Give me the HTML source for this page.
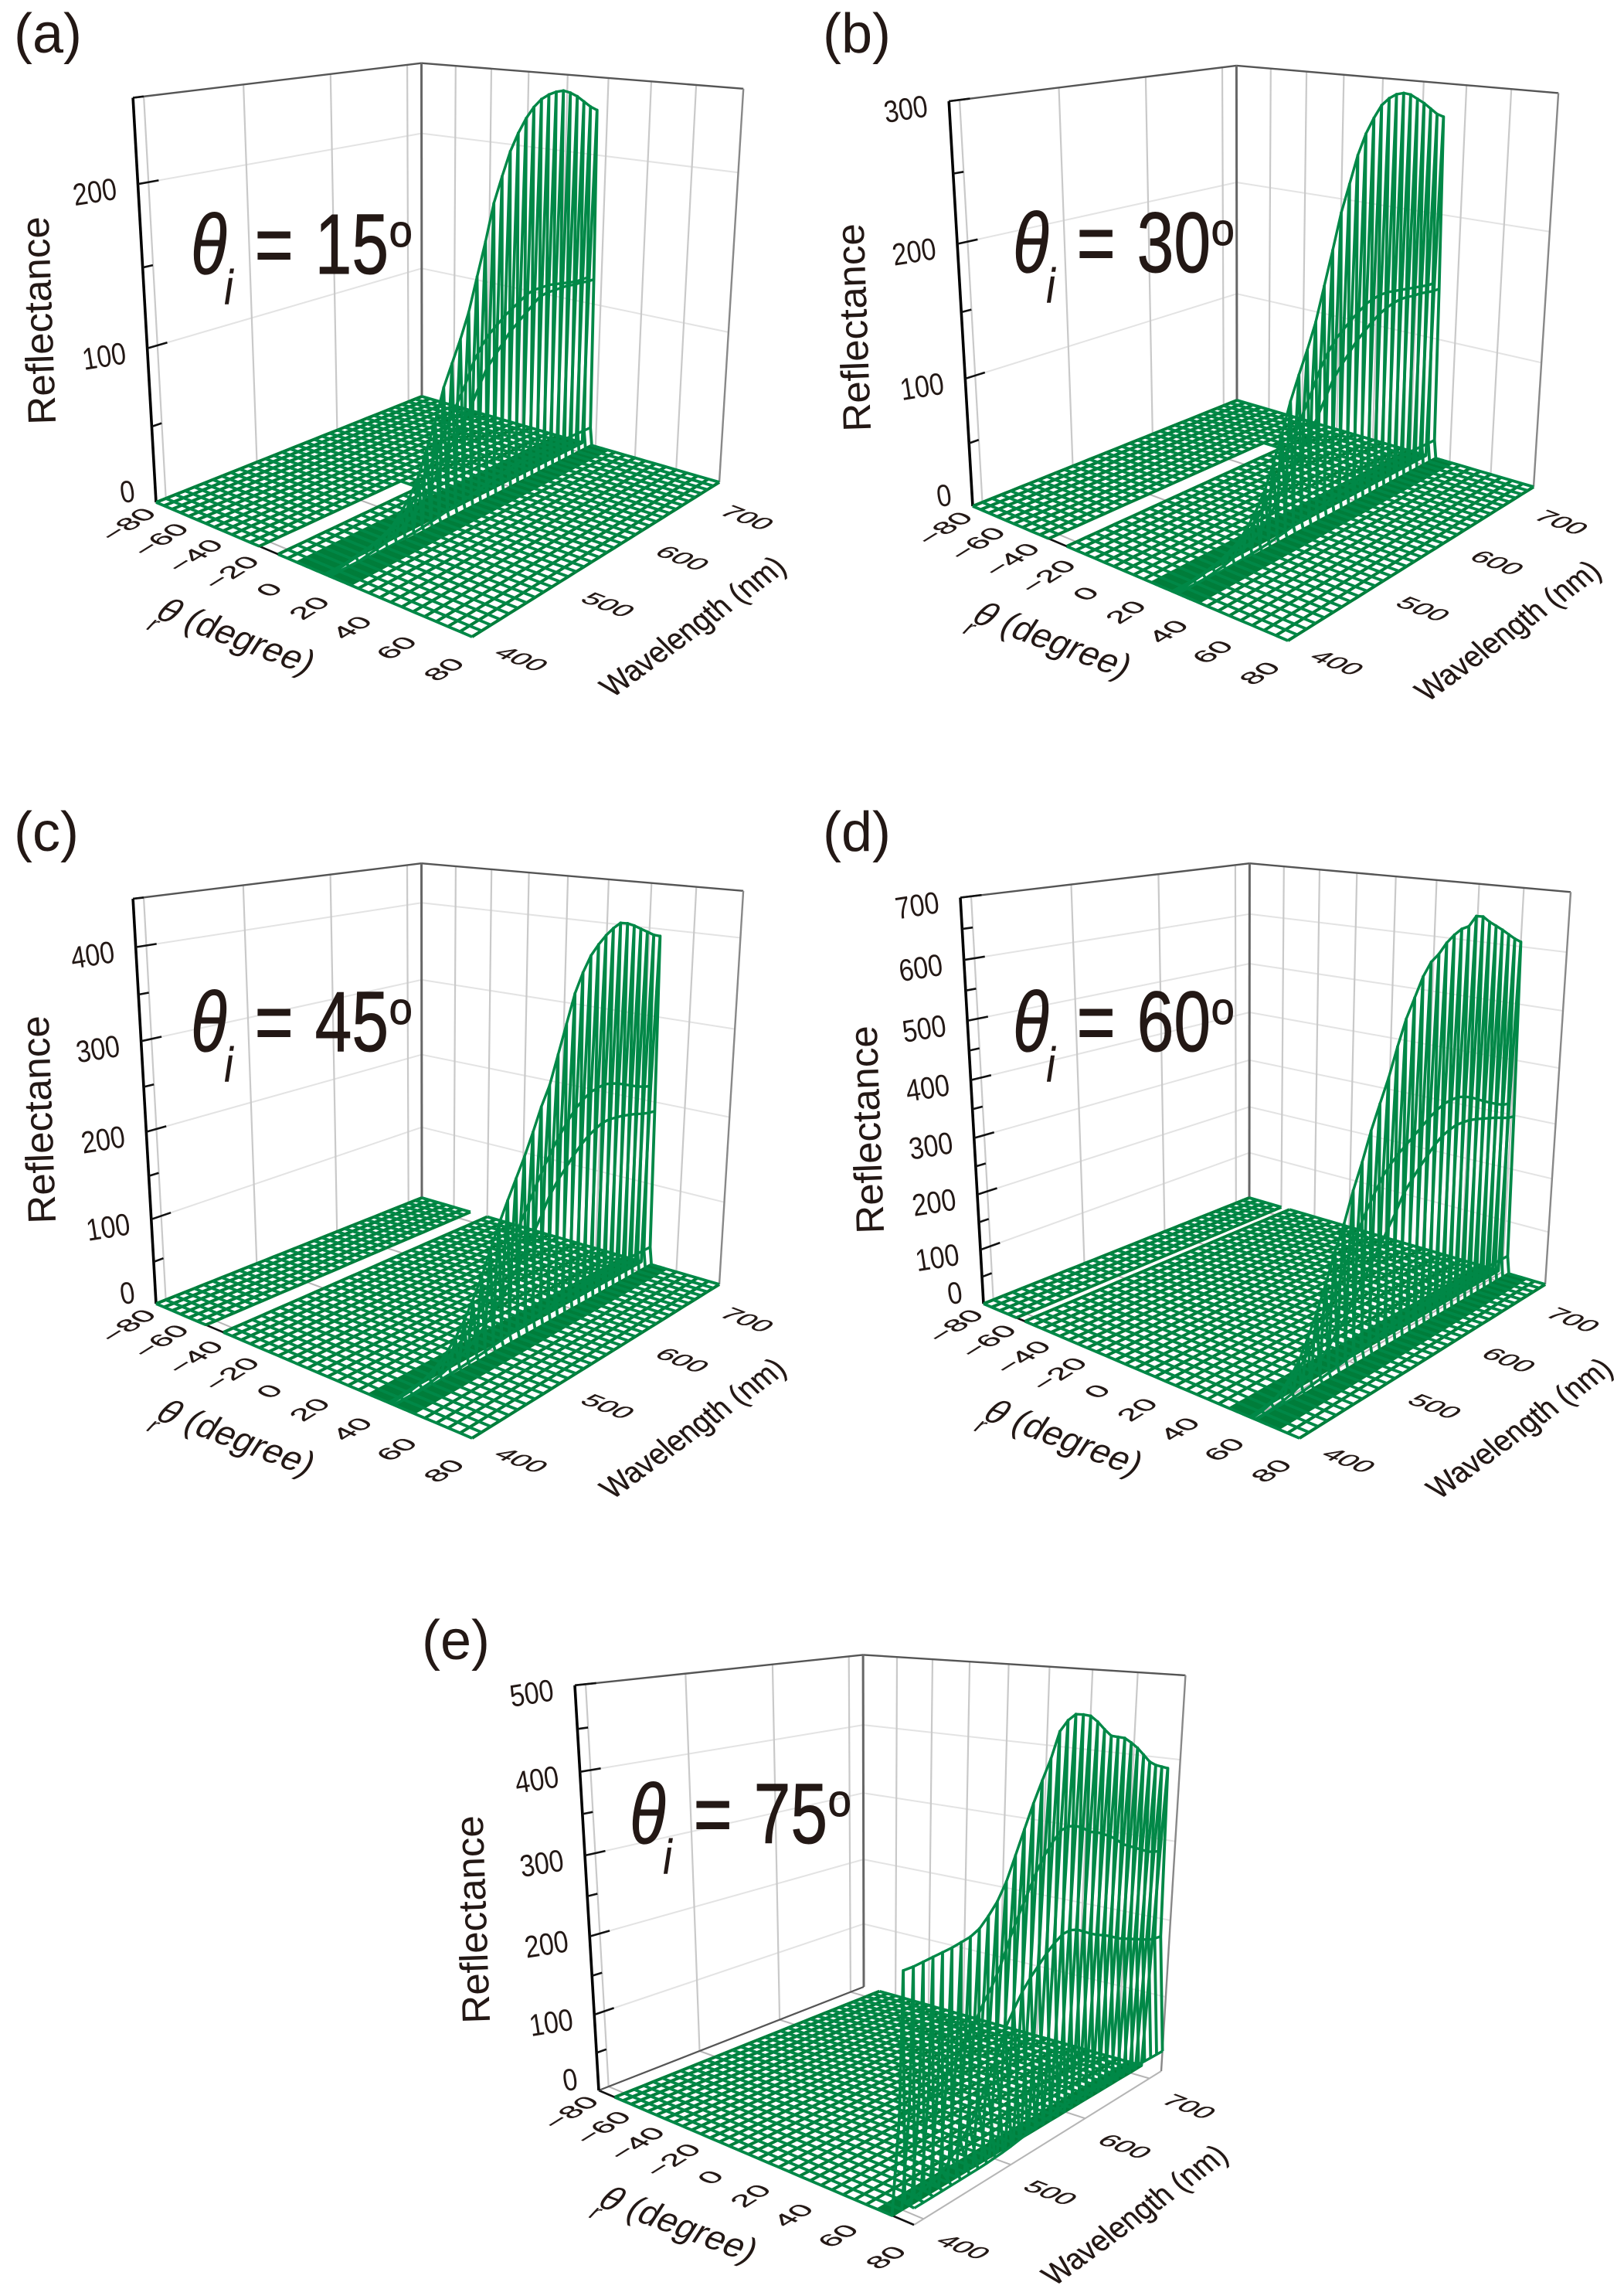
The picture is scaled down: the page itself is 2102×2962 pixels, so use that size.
<!DOCTYPE html>
<html lang="en">
<head>
<meta charset="utf-8">
<title>Angle-resolved reflectance surfaces</title>
<style>
html,body{margin:0;padding:0;background:#fff;width:2102px;height:2962px;overflow:hidden}
svg{display:block}
text{font-family:"Liberation Sans",sans-serif;fill:#231815}
</style>
</head>
<body>
<svg id="figure" xmlns="http://www.w3.org/2000/svg" width="2102" height="2962" viewBox="0 0 2102 2962"></svg>
<script>
const wavelengthsNm = [390,400,410,420,430,440,450,460,470,480,490,500,510,520,530,540,550,560,570,580,590,600,610,620,630,640,650,660,670,680,690,700,710,720];
const thetaGridDeg = [-80,-75,-70,-65,-60,-55,-50,-45,-40,-35,-30,-25,-20,-15,-10,-5,0,5,10,15,20,25,30,35,40,45,50,55,60,65,70,75,80];
const thetaTickLabels = [-80,-60,-40,-20,0,20,40,60,80];
const wavelengthTickLabels = [400,500,600,700];

const peakA = [0,0,1,2,3,5,7,10,16,23,33,48,63,82,95,108,123,143,163,185,200,214,224,232,238,242,244,245,245,243,240,236,232,229];
const upperA = [0,0,0,1,2,3,4,6,10,14,20,29,38,48,58,68,78,90,98,104,108,112,115,118,121,122,122,122,121,120,119,118,118,118];
const lowerA = [0,0,0,0,1,2,3,5,8,11,16,23,31,39,47,55,63,74,84,90,96,102,106,110,114,118,119,119,119,119,118,118,117,117];

const peakB = [0,0,1,2,4,6,9,13,20,29,41,58,77,98,115,131,149,173,197,222,241,260,274,284,292,296,298,298,296,292,288,283,278,275];
const upperB = [0,0,0,1,2,3,5,7,12,18,25,36,48,60,72,85,98,112,122,130,135,140,144,148,150,151,151,150,149,148,147,146,145,145];
const lowerB = [0,0,0,0,1,2,4,6,9,13,19,28,38,48,58,68,78,90,102,110,117,124,129,134,138,141,143,144,144,143,143,142,141,141];

const peakC = [0,1,2,4,8,14,22,33,47,65,85,110,134,155,175,195,218,242,262,292,322,352,372,388,398,406,412,416,414,410,405,400,395,392];
const upperC = [0,0,1,2,4,7,11,17,24,33,44,58,72,88,104,122,140,158,175,190,203,215,225,232,237,239,240,238,235,231,227,223,220,218];
const lowerC = [0,0,0,1,2,4,7,11,16,23,31,41,52,65,78,92,108,124,142,155,165,175,184,191,196,200,201,200,199,197,195,192,190,189];

const peakD = [0,2,6,15,30,50,80,115,155,200,238,285,325,370,408,445,490,530,560,590,610,620,635,645,652,654,668,665,654,645,636,626,616,608];
const upperD = [0,1,3,8,16,28,44,64,88,115,145,178,210,238,262,285,300,312,322,332,342,352,360,366,368,368,364,358,350,342,335,328,322,320];
const lowerD = [0,0,1,3,7,13,22,33,48,65,84,106,128,150,172,195,218,245,262,278,292,306,316,322,326,326,325,322,318,314,310,305,300,298];

const peakE = [262,262,263,264,265,266,268,270,275,285,297,315,340,365,390,412,433,460,470,475,473,470,462,452,443,440,437,430,422,412,402,396,392,388];
const upperE = [110,110,112,115,120,130,142,155,172,190,205,225,250,272,292,312,328,340,350,352,350,345,338,335,330,325,318,310,305,300,295,290,287,285];
const lowerE = [20,20,22,25,30,40,52,65,82,105,125,155,172,188,200,210,220,228,234,235,232,226,220,215,211,206,200,196,192,188,184,180,178,177];

const zTicksA = [0,100,200];
const zTicksB = [0,100,200,300];
const zTicksC = [0,100,200,300,400];
const zTicksD = [0,100,200,300,400,500,600,700];
const zTicksE = [0,100,200,300,400,500];

const panels = [
 {id:'a',label:'(a)',labelAt:[18,68],thetaI:15,zMax:250,zTicks:zTicksA,peak:peakA,upper:upperA,lower:lowerA,shoulder:.055,
  gap:[-20,-10],gapEnd:540,denseBack:[0,13],denseFront:[17,26],
  geo:{L:[202,650],B:[546,513],R:[931,624],F:[611,824],TL:[172,124],TB:[546,81],TR:[962,118]},
  noteAt:[247,354],refAt:[49,415]},
 {id:'b',label:'(b)',labelAt:[1065,68],thetaI:30,zMax:300,zTicks:zTicksB,peak:peakB,upper:upperB,lower:lowerB,shoulder:.055,
  gap:[-35,-25],gapEnd:640,denseBack:[19,28],denseFront:[32,41],
  geo:{L:[1259,655],B:[1601,518],R:[1985,630],F:[1667,829],TL:[1228,128],TB:[1601,86],TR:[2017,122]},
  noteAt:[1311,352],refAt:[1104,424]},
 {id:'c',label:'(c)',labelAt:[18,1101],thetaI:45,zMax:450,zTicks:zTicksC,peak:peakC,upper:upperC,lower:lowerC,shoulder:.055,
  gap:[-50,-40],gapEnd:720,denseBack:[35,43],denseFront:[47,55],
  geo:{L:[202,1687],B:[546,1550],R:[931,1662],F:[611,1861],TL:[172,1161],TB:[546,1117],TR:[962,1155]},
  noteAt:[247,1360],refAt:[49,1449]},
 {id:'d',label:'(d)',labelAt:[1065,1101],thetaI:60,zMax:700,zTicks:zTicksD,peak:peakD,upper:upperD,lower:lowerD,shoulder:.055,
  gap:[-60,-55],gapEnd:720,denseBack:[50,58],denseFront:[62,71],
  geo:{L:[1273,1687],B:[1617,1550],R:[2000,1662],F:[1682,1861],TL:[1243,1161],TB:[1617,1117],TR:[2033,1155]},
  noteAt:[1311,1360],refAt:[1121,1462]},
 {id:'e',label:'(e)',labelAt:[546,2147],thetaI:75,zMax:500,zTicks:zTicksE,peak:peakE,upper:upperE,lower:lowerE,shoulder:.07,
  gap:[-80.5,-70],gapEnd:720,denseBack:[66,71],denseFront:[80,80],
  geo:{L:[775,2705],B:[1118,2571],R:[1503,2680],F:[1183,2879],TL:[744,2180],TB:[1118,2137],TR:[1534,2174]},
  noteAt:[815,2385],refAt:[611,2484]}
];

const SVGNS = 'http://www.w3.org/2000/svg';
const TH_MIN = -80, TH_MAX = 80, WL_MIN = wavelengthsNm[0], WL_MAX = wavelengthsNm[wavelengthsNm.length-1];
const FLOOR_GREEN = '#007d3a';
const WALL_GREEN = '#008847';

function make(tag, parent, name, attrs, txt){
  const el = document.createElementNS(SVGNS, tag);
  
  
  for(const k in attrs) el.setAttribute(k, attrs[k]);
  if(txt !== undefined) el.textContent = txt;
  parent.appendChild(el);
  return el;
}

function makeProjection(g, zMax){
  const [x0,y0]=g.L,[x1,y1]=g.F,[x2,y2]=g.R,[x3,y3]=g.B;
  const dx1=x1-x2,dx2=x3-x2,dx3=x0-x1+x2-x3,dy1=y1-y2,dy2=y3-y2,dy3=y0-y1+y2-y3;
  const den=dx1*dy2-dx2*dy1;
  const h7=(dx3*dy2-dx2*dy3)/den,h8=(dx1*dy3-dx3*dy1)/den;
  const a=x1-x0+h7*x1,b=x3-x0+h8*x3,d=y1-y0+h7*y1,e=y3-y0+h8*y3;
  const s1=(g.TL[0]-g.L[0])/(g.TL[1]-g.L[1]),s2=(g.TR[0]-g.R[0])/(g.TR[1]-g.R[1]);
  const vy=(g.R[0]-g.L[0]+s1*g.L[1]-s2*g.R[1])/(s1-s2);
  const vx=g.L[0]+s1*(vy-g.L[1]);
  const W={L:1,F:1+h7,R:1+h7+h8,B:1+h8};
  const cOf=(P,T,w)=>w*((vy-P[1])/(vy-T[1])-1);
  const c=(cOf(g.L,g.TL,W.L)+cOf(g.B,g.TB,W.B)+cOf(g.R,g.TR,W.R))/3;
  return function(theta, wl, z){
    const u=(theta-TH_MIN)/(TH_MAX-TH_MIN), v=(wl-WL_MIN)/(WL_MAX-WL_MIN);
    const w=h7*u+h8*v+1;
    const X=(a*u+b*v+x0)/w, Y=(d*u+e*v+y0)/w;
    const k=w/(w+c*(z/zMax));
    return [vx+(X-vx)*k, vy+(Y-vy)*k];
  };
}

function buildRows(p){
  const zeros=wavelengthsNm.map(()=>0);
  const rows=[];
  thetaGridDeg.forEach(t=>{
    if(t>=p.denseBack[0] && t<=p.denseFront[1]) return;
    rows.push({theta:t,values:zeros});
  });
  for(let t=p.denseBack[0];t<=p.denseBack[1];t++) rows.push({theta:t,values:zeros});
  for(let t=p.denseFront[0];t<=p.denseFront[1];t++){
    rows.push({theta:t,values:t===p.denseFront[0]?p.peak.map(v=>v*p.shoulder):zeros});
  }
  rows.push({theta:p.thetaI-1.2,values:p.upper});
  rows.push({theta:p.thetaI,values:p.peak});
  rows.push({theta:p.thetaI+1.2,values:p.lower});
  rows.sort((r,s)=>r.theta-s.theta);
  return rows;
}

function line(parent,name,a,b,stroke,width){
  return make('line',parent,name,{x1:a[0].toFixed(1),y1:a[1].toFixed(1),x2:b[0].toFixed(1),y2:b[1].toFixed(1),stroke:stroke,'stroke-width':width});
}

function skewText(parent,name,txt,pos,m,size,anchor){
  return make('text',parent,name,{
    transform:`matrix(${m[0]} ${m[1]} ${m[2]} ${m[3]} ${pos[0].toFixed(1)} ${pos[1].toFixed(1)})`,
    'font-size':size,'text-anchor':anchor||'middle',dy:'.36em',stroke:'#231815','stroke-width':.4},txt);
}

function drawPanel(p, svg){
  const G=make('g',svg,'panel-'+p.id,{});
  const P=makeProjection(p.geo,p.zMax);
  const vmin=WL_MIN, vmax=WL_MAX;

  make('text',G,'panel-label-'+p.id,{x:p.labelAt[0],y:p.labelAt[1],'font-size':72},p.label);

  const walls=make('g',G,'wall-gridlines',{fill:'none'});
  p.zTicks.forEach(z=>{
    if(z===0) return;
    line(walls,'z-gridline-left',P(TH_MIN,vmin,z),P(TH_MIN,vmax,z),'#e3e3e3',2);
    line(walls,'z-gridline-right',P(TH_MIN,vmax,z),P(TH_MAX,vmax,z),'#e3e3e3',2);
  });
  wavelengthTickLabels.forEach(wl=>{
    line(walls,'wavelength-gridline-wall',P(TH_MIN,wl,0),P(TH_MIN,wl,p.zMax),'#c9c9c9',2.2);
    line(walls,'wavelength-gridline-floor',P(TH_MIN,wl,0),P(TH_MAX,wl,0),'#b5b5b5',2);
  });
  thetaTickLabels.forEach(t=>{
    if(t>TH_MIN && t<TH_MAX) line(walls,'theta-gridline-wall',P(t,vmax,0),P(t,vmax,p.zMax),'#c9c9c9',2.2);
    line(walls,'theta-gridline-floor',P(t,vmin,0),P(t,vmax,0),'#b5b5b5',2);
  });

  const frame=make('g',G,'axes-frame',{});
  line(frame,'left-wall-top-edge',P(TH_MIN,vmin,p.zMax),P(TH_MIN,vmax,p.zMax),'#555',2.4);
  line(frame,'right-wall-top-edge',P(TH_MIN,vmax,p.zMax),P(TH_MAX,vmax,p.zMax),'#555',2.4);
  line(frame,'back-corner-edge',P(TH_MIN,vmax,0),P(TH_MIN,vmax,p.zMax),'#666',3);
  line(frame,'right-wall-edge',P(TH_MAX,vmax,0),P(TH_MAX,vmax,p.zMax),'#888',2.4);
  line(frame,'theta-axis-line',P(TH_MIN,vmin,0),P(TH_MAX,vmin,0),'#111',2.6);
  line(frame,'floor-back-edge',P(TH_MIN,vmin,0),P(TH_MIN,vmax,0),'#555',2.2);
  line(frame,'z-axis-line',P(TH_MIN,vmin,0),P(TH_MIN,vmin,p.zMax),'#000',3.6);

  const step=50;
  for(let z=step;z<=p.zMax;z+=step){
    const major=z%100===0;
    const span=(vmax-vmin)*(major?.06:.03);
    line(frame,major?'z-major-tick':'z-minor-tick',P(TH_MIN,vmin,z),P(TH_MIN,vmin+span,z),'#111',2.6);
  }

  const rows=buildRows(p);
  const rowsG=make('g',G,'surface-rows',{fill:'none',stroke:FLOOR_GREEN,'stroke-width':4,'stroke-linejoin':'round'});
  const inGapOpen=t=>t>p.gap[0]&&t<p.gap[1];
  rows.forEach(r=>{
    let d='',pen=false;
    wavelengthsNm.forEach((wl,j)=>{
      if(inGapOpen(r.theta)&&wl<=p.gapEnd){pen=false;return;}
      const q=P(r.theta,wl,r.values[j]);
      d+=(pen?'L':'M')+q[0].toFixed(1)+' '+q[1].toFixed(1);
      pen=true;
    });
    if(d) make('path',rowsG,'theta-row-'+r.theta,{d:d,stroke:r.values.some(v=>v>0)?WALL_GREEN:FLOOR_GREEN,'stroke-width':r.values.some(v=>v>0)?3.4:4});
  });

  const colsG=make('g',G,'surface-columns',{fill:'none',stroke:WALL_GREEN,'stroke-width':3.8,'stroke-linejoin':'round'});
  wavelengthsNm.forEach((wl,j)=>{
    let d='',pen=false;
    rows.forEach((r,k)=>{
      if(inGapOpen(r.theta)&&wl<=p.gapEnd){pen=false;return;}
      if(k>0&&rows[k-1].theta>=p.gap[0]&&r.theta<=p.gap[1]&&wl<=p.gapEnd) pen=false;
      const q=P(r.theta,wl,r.values[j]);
      d+=(pen?'L':'M')+q[0].toFixed(1)+' '+q[1].toFixed(1);
      pen=true;
    });
    make('path',colsG,'wavelength-column-'+wl,{d:d});
  });

  const labels=make('g',G,'tick-labels',{});
  p.zTicks.forEach(z=>{
    const a=P(TH_MIN,vmin,z);
    const at=[a[0]-28,a[1]+(z===0?-16:5)];
    make('text',labels,'z-tick-label',{
      transform:`translate(${at[0].toFixed(1)} ${at[1].toFixed(1)}) rotate(-9) scale(.85 1)`,
      'font-size':40,'text-anchor':'end',dy:'.36em'},String(z));
  });
  thetaTickLabels.forEach(t=>{
    const a=P(t,vmin,0);
    const txt=t<0?'\u2212'+Math.abs(t):String(t);
    const u=(t-TH_MIN)/(TH_MAX-TH_MIN);
    skewText(labels,'theta-tick-label',txt,[a[0]-37,a[1]+28+14*u],[.85,-.53,.74,.34],40);
  });
  wavelengthTickLabels.forEach(wl=>{
    const a=P(TH_MAX,wl,0);
    skewText(labels,'wavelength-tick-label',String(wl),[a[0]+52,a[1]+36],[.94,.36,-.72,.46],37);
  });

  const f=P(TH_MAX,vmin,0), r=P(TH_MAX,vmax,0), l=P(TH_MIN,vmin,0);
  const wlAt=[(f[0]+r[0])/2+125,(f[1]+r[1])/2+86];
  skewText(G,'wavelength-axis-title','Wavelength (nm)',wlAt,[.75,-.55,.72,.72],40);

  const thAt=[(l[0]+f[0])/2-100,(l[1]+f[1])/2+85];
  const tt=make('text',G,'theta-axis-title',{
    transform:`matrix(.93 .35 -.55 .85 ${thAt[0].toFixed(1)} ${thAt[1].toFixed(1)})`,
    'font-size':46,'text-anchor':'middle',dy:'.36em'});
  make('tspan',tt,'theta-symbol',{'font-style':'italic'},'\u03b8');
  make('tspan',tt,'theta-subscript',{'font-style':'italic','font-size':30,dx:-26,dy:18},'r');
  make('tspan',tt,'theta-units',{dx:16,dy:-18},' (degree)');

  make('text',G,'reflectance-axis-title',{
    transform:`translate(${p.refAt[0]} ${p.refAt[1]}) rotate(-92)`,
    'font-size':51,'text-anchor':'middle',dy:'.36em'},'Reflectance');

  const note=make('g',G,'incidence-angle-note',{transform:`translate(${p.noteAt[0]} ${p.noteAt[1]}) scale(.78 1)`,stroke:'#231815','stroke-width':1});
  make('text',note,'note-theta',{x:0,y:0,'font-size':110,'font-style':'italic'},'\u03b8');
  make('text',note,'note-subscript',{x:56,y:39,'font-size':62,'font-style':'italic'},'i');
  make('text',note,'note-equals',{x:106,y:0,'font-size':110},'=');
  make('text',note,'note-angle',{x:206,y:0,'font-size':110},String(p.thetaI));
  make('text',note,'note-degree',{transform:'translate(329 -35) scale(1.2 1)','font-size':58},'o');
}

const svgRoot=document.getElementById('figure');
panels.forEach(p=>drawPanel(p,svgRoot));
</script>
</body>
</html>
